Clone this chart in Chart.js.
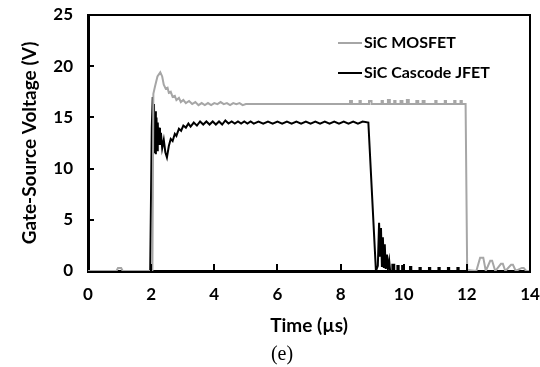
<!DOCTYPE html>
<html>
<head>
<meta charset="utf-8">
<script src="https://cdn.jsdelivr.net/npm/chart.js@4"></script>
<style>
  html, body { margin: 0; padding: 0; background: #fff; }
  #wrap { width: 540px; height: 367px; position: relative; }
</style>
</head>
<body>
<div id="wrap"><canvas id="c" width="540" height="367"></canvas></div>
<script>
// ---- data (time in µs, gate-source voltage in V) ----
const seriesNames = ["SiC MOSFET", "SiC Cascode JFET"];
const xTicks = [0, 2, 4, 6, 8, 10, 12, 14];
const yTicks = [0, 5, 10, 15, 20, 25];
const caption = "(e)";

const mosfetPoints = [
  [0, 0], [0.9, 0], [0.95, 0.3], [1.05, 0.3], [1.1, 0], [2.04, 0],
  [2.07, 17.3], [2.12, 18.0], [2.2, 19.0], [2.29, 19.4], [2.35, 19.0],
  [2.4, 18.2], [2.46, 17.8], [2.52, 17.9], [2.56, 17.4], [2.62, 17.5],
  [2.68, 17.0], [2.75, 17.1], [2.8, 16.7], [2.88, 16.9], [2.94, 16.5],
  [3.02, 16.7], [3.1, 16.4], [3.2, 16.6], [3.3, 16.3], [3.4, 16.5],
  [3.5, 16.2], [3.6, 16.4], [3.7, 16.2], [3.8, 16.4], [3.9, 16.2],
  [4.0, 16.4], [4.1, 16.3], [4.2, 16.5], [4.3, 16.3], [4.4, 16.4],
  [4.5, 16.2], [4.6, 16.4], [4.7, 16.3], [4.8, 16.4], [4.9, 16.2],
  [5.0, 16.3], [8.3, 16.3], [8.3, 16.6], [8.36, 16.6], [8.36, 16.3],
  [8.6, 16.3], [8.6, 16.6], [8.64, 16.6], [8.64, 16.3], [8.9, 16.3],
  [8.9, 16.6], [8.98, 16.6], [8.98, 16.3], [9.3, 16.3], [9.3, 16.6],
  [9.34, 16.6], [9.34, 16.3], [9.5, 16.3], [9.5, 16.7], [9.56, 16.7],
  [9.56, 16.3], [9.7, 16.3], [9.7, 16.6], [9.74, 16.6], [9.74, 16.3],
  [9.9, 16.3], [9.9, 16.6], [9.96, 16.6], [9.96, 16.3], [10.1, 16.3],
  [10.1, 16.7], [10.16, 16.7], [10.16, 16.3], [10.4, 16.3], [10.4, 16.6],
  [10.46, 16.6], [10.46, 16.3], [10.6, 16.3], [10.6, 16.6], [10.66, 16.6],
  [10.66, 16.3], [11.0, 16.3], [11.0, 16.6], [11.04, 16.6], [11.04, 16.3],
  [11.3, 16.3], [11.3, 16.6], [11.34, 16.6], [11.34, 16.3], [11.6, 16.3],
  [11.6, 16.6], [11.64, 16.6], [11.64, 16.3], [11.8, 16.3], [11.8, 16.6],
  [11.84, 16.6], [11.84, 16.3], [11.96, 16.3], [12.01, 0.1], [12.3, 0],
  [12.42, 1.3], [12.52, 1.3], [12.6, 0], [12.74, 1.0], [12.8, 1.0],
  [12.9, 0], [13.08, 0.7], [13.14, 0.7], [13.22, 0], [13.4, 0.6],
  [13.46, 0.6], [13.55, 0], [13.74, 0.3], [13.8, 0.3], [13.88, 0], [14, 0]
];

const cascodePoints = [
  [0, 0], [1.97, 0], [2.02, 14.0], [2.05, 17.0], [2.07, 12.0], [2.09, 16.3],
  [2.11, 11.5], [2.13, 15.6], [2.15, 11.4], [2.17, 15.0], [2.19, 11.8],
  [2.21, 14.5], [2.23, 12.3], [2.25, 14.0], [2.28, 12.3], [2.31, 13.5],
  [2.35, 12.0], [2.4, 12.8], [2.45, 11.6], [2.5, 11.1], [2.56, 12.2],
  [2.62, 12.9], [2.68, 12.7], [2.75, 13.4], [2.8, 13.2], [2.88, 13.9],
  [2.95, 13.7], [3.02, 14.2], [3.1, 14.0], [3.18, 14.4], [3.25, 14.1],
  [3.35, 14.5], [3.45, 14.2], [3.55, 14.6], [3.65, 14.3], [3.75, 14.6],
  [3.85, 14.3], [3.95, 14.6], [4.05, 14.3], [4.15, 14.6], [4.25, 14.3],
  [4.35, 14.7], [4.45, 14.4], [4.55, 14.6], [4.65, 14.4], [4.75, 14.6],
  [4.85, 14.4], [4.95, 14.6], [5.05, 14.4], [5.15, 14.6], [5.25, 14.4],
  [5.4, 14.6], [5.55, 14.4], [5.7, 14.6], [5.85, 14.4], [6.0, 14.6],
  [6.15, 14.4], [6.3, 14.6], [6.45, 14.4], [6.6, 14.6], [6.75, 14.4],
  [6.9, 14.6], [7.05, 14.4], [7.2, 14.6], [7.35, 14.4], [7.5, 14.6],
  [7.65, 14.4], [7.8, 14.6], [7.95, 14.4], [8.1, 14.6], [8.25, 14.4],
  [8.4, 14.6], [8.55, 14.4], [8.7, 14.6], [8.88, 14.5], [9.12, 0],
  [9.18, 0.5], [9.22, 4.7], [9.25, 1.5], [9.28, 4.2], [9.31, 0.4],
  [9.34, 3.3], [9.37, 0.3], [9.4, 2.6], [9.43, 0.2], [9.47, 1.6],
  [9.5, 0.2], [9.54, 1.0], [9.57, 0], [9.64, 0], [9.64, 0.6], [9.7, 0.6],
  [9.7, 0], [9.8, 0], [9.8, 0.5], [9.84, 0.5], [9.84, 0], [9.95, 0],
  [9.95, 0.5], [9.99, 0.5], [9.99, 0], [10.2, 0], [10.2, 0.4], [10.24, 0.4],
  [10.24, 0], [10.5, 0], [10.5, 0.3], [10.54, 0.3], [10.54, 0], [10.8, 0],
  [10.8, 0.3], [10.84, 0.3], [10.84, 0], [11.1, 0], [11.1, 0.3],
  [11.14, 0.3], [11.14, 0], [11.4, 0], [11.4, 0.3], [11.44, 0.3],
  [11.44, 0], [11.7, 0], [11.7, 0.3], [11.74, 0.3], [11.74, 0], [14, 0]
];

const toXY = pts => pts.map(p => ({ x: p[0], y: p[1] }));

// ---- plugins ----
const frameAndTicks = {
  id: 'frameAndTicks',
  afterDatasetsDraw(chart) {
    const { ctx, chartArea: a, scales } = chart;
    ctx.save();
    ctx.strokeStyle = '#000';
    ctx.lineWidth = 2;
    ctx.beginPath();
    ctx.moveTo(a.left, a.top);
    ctx.lineTo(a.right, a.top);
    ctx.lineTo(a.right, a.bottom);
    ctx.stroke();
    ctx.lineWidth = 2;
    ctx.beginPath();
    xTicks.forEach(v => {
      if (v <= xTicks[0] || v >= xTicks[xTicks.length - 1]) return;
      const px = Math.round(scales.x.getPixelForValue(v));
      ctx.moveTo(px, a.bottom);
      ctx.lineTo(px, a.bottom - 7);
    });
    yTicks.forEach(v => {
      if (v <= yTicks[0] || v >= yTicks[yTicks.length - 1]) return;
      const py = Math.round(scales.y.getPixelForValue(v));
      ctx.moveTo(a.left, py);
      ctx.lineTo(a.left + 6, py);
    });
    ctx.stroke();
    ctx.restore();
  },
  afterDraw(chart) {
    const { ctx } = chart;
    ctx.save();
    const items = chart.data.datasets;
    const lx0 = 338, lx1 = 362, tx = 364;
    const ys = [43, 73];
    ctx.font = 'bold 16px Lato';
    ctx.textBaseline = 'middle';
    ctx.textAlign = 'left';
    items.forEach((ds, i) => {
      ctx.strokeStyle = ds.borderColor;
      ctx.lineWidth = ds.borderWidth;
      ctx.beginPath();
      ctx.moveTo(lx0, ys[i]);
      ctx.lineTo(lx1, ys[i]);
      ctx.stroke();
      ctx.fillStyle = '#000';
      ctx.fillText(ds.label, tx, ys[i]);
    });
    ctx.font = '20px "Liberation Serif"';
    ctx.textAlign = 'center';
    ctx.fillText(caption, 282, 355);
    ctx.restore();
  }
};

new Chart(document.getElementById('c'), {
  type: 'line',
  data: {
    datasets: [
      {
        label: seriesNames[0],
        data: toXY(mosfetPoints),
        borderColor: '#a6a6a6',
        borderWidth: 2,
        pointRadius: 0,
        tension: 0,
        fill: false
      },
      {
        label: seriesNames[1],
        data: toXY(cascodePoints),
        borderColor: '#000000',
        borderWidth: 2,
        pointRadius: 0,
        tension: 0,
        fill: false
      }
    ]
  },
  options: {
    responsive: false,
    animation: false,
    layout: { padding: { top: 15, right: 10, bottom: 26, left: 0 } },
    plugins: { legend: { display: false }, tooltip: { enabled: false } },
    scales: {
      x: {
        type: 'linear',
        min: xTicks[0],
        max: xTicks[xTicks.length - 1],
        afterBuildTicks: s => { s.ticks = xTicks.map(v => ({ value: v })); },
        afterFit: s => { s.height = 70; s.paddingLeft = 0; s.paddingRight = 0; },
        grid: { display: false, drawTicks: false },
        border: { display: true, color: '#000', width: 3 },
        ticks: {
          padding: 13,
          color: '#000',
          font: { family: 'Lato', weight: 'bold', size: 17 },
          maxRotation: 0
        },
        title: {
          display: true,
          text: 'Time (µs)',
          color: '#000',
          font: { family: 'Lato', weight: 'bold', size: 19 },
          padding: { top: 0, bottom: 4 }
        }
      },
      y: {
        type: 'linear',
        min: yTicks[0],
        max: yTicks[yTicks.length - 1],
        afterBuildTicks: s => { s.ticks = yTicks.map(v => ({ value: v })); },
        afterFit: s => { s.width = 88; s.paddingTop = 0; s.paddingBottom = 0; },
        grid: { display: false, drawTicks: false },
        border: { display: true, color: '#000', width: 3 },
        ticks: {
          padding: 15,
          color: '#000',
          font: { family: 'Lato', weight: 'bold', size: 17 }
        },
        title: {
          display: true,
          text: 'Gate-Source Voltage (V)',
          color: '#000',
          font: { family: 'Lato', weight: 'bold', size: 19 },
          padding: { top: 18, bottom: 0 }
        }
      }
    }
  },
  plugins: [frameAndTicks]
});
</script>
</body>
</html>
